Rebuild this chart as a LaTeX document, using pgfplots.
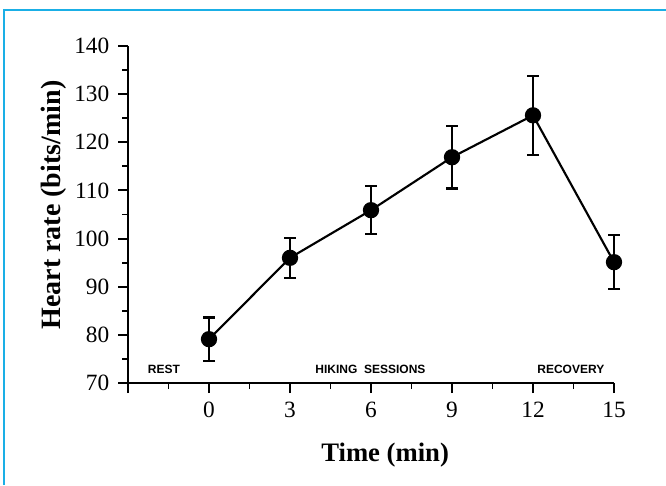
\documentclass[border=0pt]{standalone}
\usepackage{pgfplots}
\pgfplotsset{compat=1.18}
\usepackage{fontspec}
\setmainfont{Liberation Serif}
\newfontfamily\annfont{Liberation Sans}
\definecolor{frameblue}{HTML}{1AAFE6}
\begin{document}
\begin{tikzpicture}[x=1pt,y=1pt]
\useasboundingbox (0,0) rectangle (499.5,363.75);
\fill[white] (0,0) rectangle (499.5,363.75);
\draw[frameblue, line width=1.6pt] (3,0) -- (3,356.25) -- (499.5,356.25);
\begin{axis}[
  at={(96pt,76.5pt)}, anchor=south west,
  scale only axis, width=364.5pt, height=252.75pt,
  xmin=-3, xmax=15, ymin=70, ymax=140,
  axis lines*=left,
  axis line style={line width=1.5pt},
  every tick/.style={line width=1.4pt, black},
  tick align=outside,
  major tick length=7.5pt, minor tick length=4.5pt,
  xtick={-3,0,3,6,9,12,15},
  xticklabels={,0,3,6,9,12,15},
  minor xtick={-1.5,1.5,4.5,7.5,10.5,13.5},
  ytick={70,80,...,140},
  minor ytick={75,85,...,135},
  tick label style={font=\fontsize{17.5}{19}\selectfont},
  /pgf/number format/assume math mode=true,
  xticklabel style={yshift=-3pt},
  yticklabel style={xshift=-3pt},
  xlabel={\textbf{Time (min)}},
  ylabel={\textbf{Heart rate (bits/min)}},
  xlabel style={font=\fontsize{20}{22}\selectfont, at={(axis description cs:0.529,-0.214)}, anchor=center},
  ylabel style={font=\fontsize{21}{23}\selectfont, at={(axis description cs:-0.152,0.528)}, anchor=center},
  clip=false,
]
\addplot[black, line width=1.6pt, mark=*, mark size=5.3pt,
  error bars/.cd, y dir=both, y explicit,
  error bar style={line width=1.6pt},
  error mark options={rotate=90, mark size=4.5pt, line width=1.6pt}]
  coordinates {
  (0,79.1) +- (0,4.5)
  (3,96.0) +- (0,4.1)
  (6,105.9) +- (0,5.0)
  (9,116.9) +- (0,6.5)
  (12,125.6) +- (0,8.2)
  (15,95.1) +- (0,5.6)
};
\node[font=\annfont\bfseries\fontsize{9}{10}\selectfont] at (axis cs:-1.67,72.9) {REST};
\node[font=\annfont\bfseries\fontsize{9}{10}\selectfont] at (axis cs:5.98,72.9) {HIKING\ \ SESSIONS};
\node[font=\annfont\bfseries\fontsize{9}{10}\selectfont] at (axis cs:13.4,72.9) {RECOVERY};
\end{axis}
\end{tikzpicture}
\end{document}
